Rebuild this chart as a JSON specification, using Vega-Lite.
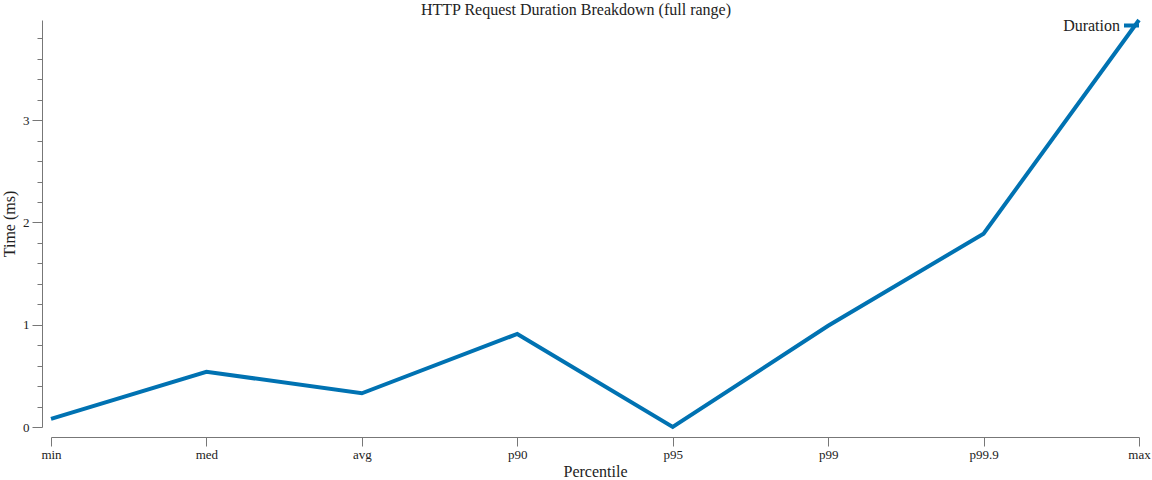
{
  "$schema": "https://vega.github.io/schema/vega-lite/v6.json",
  "autosize": {"type": "none"},
  "padding": {"left": 51, "top": 20, "right": 13, "bottom": 53},
  "width": 1088,
  "height": 407,
  "background": "white",
  "title": {
    "text": "HTTP Request Duration Breakdown (full range)",
    "font": "Liberation Serif",
    "fontSize": 16,
    "fontWeight": "normal",
    "color": "#222222",
    "anchor": "middle",
    "frame": "group",
    "dx": -19,
    "dy": 11,
    "offset": 5
  },
  "config": {
    "view": {"stroke": null},
    "axis": {
      "labelFont": "Liberation Serif",
      "titleFont": "Liberation Serif",
      "labelFontSize": 13,
      "titleFontSize": 16,
      "titleFontWeight": "normal",
      "labelColor": "#222222",
      "titleColor": "#222222",
      "domainColor": "#777777",
      "tickColor": "#777777",
      "grid": false
    },
    "legend": {"labelFont": "Liberation Serif", "labelFontSize": 16, "labelColor": "#222222"}
  },
  "data": {
    "values": [
      {"percentile": "min", "ms": 0.08, "series": "Duration"},
      {"percentile": "med", "ms": 0.54, "series": "Duration"},
      {"percentile": "avg", "ms": 0.33, "series": "Duration"},
      {"percentile": "p90", "ms": 0.91, "series": "Duration"},
      {"percentile": "p95", "ms": 0.0, "series": "Duration"},
      {"percentile": "p99", "ms": 0.99, "series": "Duration"},
      {"percentile": "p99.9", "ms": 1.89, "series": "Duration"},
      {"percentile": "max", "ms": 3.98, "series": "Duration"}
    ]
  },
  "mark": {"type": "line", "strokeWidth": 4, "strokeCap": "butt"},
  "encoding": {
    "x": {
      "field": "percentile",
      "type": "ordinal",
      "sort": null,
      "scale": {"type": "point", "padding": 0},
      "axis": {
        "title": "Percentile",
        "labelAngle": 0,
        "offset": 10,
        "tickSize": 9,
        "labelPadding": 2,
        "titlePadding": 2
      }
    },
    "y": {
      "field": "ms",
      "type": "quantitative",
      "scale": {"domain": [0, 3.98], "nice": false, "zero": true},
      "axis": {
        "title": "Time (ms)",
        "offset": 9,
        "values": [0, 0.2, 0.4, 0.6, 0.8, 1, 1.2, 1.4, 1.6, 1.8, 2, 2.2, 2.4, 2.6, 2.8, 3, 3.2, 3.4, 3.6, 3.8],
        "labelExpr": "datum.value % 1 === 0 ? format(datum.value, 'd') : ''",
        "tickSize": {"condition": {"test": "datum.value % 1 === 0", "value": 10}, "value": 5},
        "labelPadding": 3,
        "titlePadding": 5
      }
    },
    "color": {
      "field": "series",
      "type": "nominal",
      "scale": {"range": ["#0072b2"]},
      "legend": {
        "title": null,
        "orient": "none",
        "legendX": 1071,
        "legendY": -4,
        "symbolType": "stroke",
        "symbolSize": 225,
        "symbolStrokeWidth": 4,
        "labelAlign": "right",
        "labelOffset": -21
      }
    }
  }
}
